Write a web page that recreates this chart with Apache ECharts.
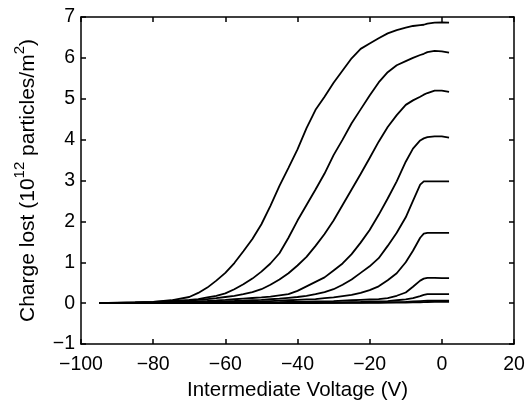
<!DOCTYPE html>
<html><head><meta charset="utf-8">
<script src="https://cdn.jsdelivr.net/npm/echarts@6/dist/echarts.min.js"></script>
<style>html,body{margin:0;padding:0;background:#fff}#c{width:527px;height:403px}</style>
</head><body><div id="c"></div>
<script>
const voltage = [-95,-90,-85,-80,-75,-70,-67.5,-65,-62.5,-60,-57.5,-55,-52.5,-50,-47.5,-45,-42.5,-40,-37.5,-35,-32.5,-30,-27.5,-25,-22.5,-20,-17.5,-15,-12.5,-10,-8,-6,-5,-4,-2,0,2];
const curve1 = [0,0.01,0.02,0.03,0.07,0.15,0.25,0.38,0.55,0.74,0.98,1.27,1.57,1.93,2.38,2.87,3.31,3.76,4.28,4.73,5.05,5.39,5.69,5.99,6.22,6.35,6.48,6.6,6.68,6.74,6.78,6.8,6.81,6.84,6.86,6.87,6.86];
const curve2 = [0,0.005,0.015,0.03,0.05,0.08,0.1,0.14,0.18,0.24,0.34,0.46,0.6,0.77,0.97,1.22,1.6,2.02,2.4,2.78,3.17,3.62,4.0,4.4,4.74,5.08,5.4,5.65,5.82,5.92,6.0,6.07,6.1,6.14,6.17,6.16,6.13];
const curve3 = [0,0.003,0.01,0.02,0.035,0.06,0.08,0.1,0.12,0.15,0.18,0.22,0.27,0.34,0.45,0.58,0.73,0.92,1.13,1.4,1.69,2.02,2.4,2.78,3.16,3.55,3.95,4.31,4.6,4.85,4.96,5.05,5.1,5.14,5.2,5.2,5.17];
const curve4 = [0,0.002,0.006,0.012,0.02,0.035,0.045,0.055,0.067,0.08,0.095,0.11,0.125,0.14,0.16,0.19,0.22,0.3,0.41,0.52,0.63,0.8,0.97,1.2,1.48,1.79,2.16,2.56,2.98,3.46,3.78,3.98,4.03,4.06,4.08,4.08,4.05];
const curve5 = [0,0.001,0.004,0.008,0.013,0.02,0.025,0.03,0.037,0.045,0.052,0.06,0.07,0.08,0.095,0.11,0.13,0.15,0.18,0.22,0.27,0.34,0.45,0.58,0.74,0.9,1.1,1.4,1.72,2.1,2.5,2.9,2.98,2.98,2.98,2.98,2.98];
const curve6 = [0,0,0.002,0.004,0.006,0.01,0.012,0.015,0.017,0.02,0.025,0.03,0.035,0.04,0.05,0.06,0.07,0.08,0.09,0.1,0.12,0.14,0.17,0.2,0.25,0.32,0.41,0.56,0.73,1.0,1.28,1.6,1.7,1.72,1.72,1.72,1.72];
const curve7 = [0,0,0,0.002,0.003,0.005,0.006,0.007,0.008,0.01,0.011,0.013,0.015,0.017,0.02,0.023,0.027,0.03,0.035,0.04,0.045,0.05,0.06,0.07,0.08,0.09,0.1,0.12,0.18,0.26,0.4,0.55,0.6,0.62,0.62,0.61,0.61];
const curve8 = [0,0,0,0,0.001,0.002,0.0025,0.003,0.0035,0.004,0.0045,0.005,0.0055,0.006,0.007,0.008,0.009,0.01,0.012,0.014,0.016,0.018,0.02,0.025,0.03,0.04,0.045,0.05,0.07,0.09,0.12,0.17,0.2,0.22,0.22,0.22,0.22];
const curve9 = [0,0,0,0,0,0.001,0.001,0.001,0.0015,0.002,0.002,0.002,0.0025,0.003,0.003,0.004,0.004,0.005,0.006,0.007,0.008,0.009,0.01,0.012,0.014,0.016,0.018,0.02,0.025,0.03,0.04,0.05,0.055,0.06,0.06,0.06,0.06];
const curve10 = [0,0,0,0,0,0,0,0,0.0005,0.001,0.001,0.001,0.001,0.001,0.002,0.002,0.002,0.003,0.003,0.003,0.004,0.004,0.005,0.005,0.006,0.007,0.008,0.01,0.012,0.015,0.018,0.022,0.025,0.028,0.03,0.03,0.03];
const curves = [curve1,curve2,curve3,curve4,curve5,curve6,curve7,curve8,curve9,curve10];
const xTicks = {min:-100, max:20, interval:20};
const yTicks = {min:-1, max:7, interval:1};

const FONT = 'Liberation Sans';
const minus = v => String(v).replace('-', '\u2212');
const lineStyle = {color:'#000', width:1.5};
const chart = echarts.init(document.getElementById('c'));
chart.setOption({
  animation:false,
  backgroundColor:'#fff',
  grid:{left:81, right:13, top:17, bottom:59, containLabel:false, outerBoundsMode:'none'},
  xAxis:[{
    type:'value', min:xTicks.min, max:xTicks.max, interval:xTicks.interval, position:'bottom',
    axisLine:{show:true, onZero:false, lineStyle}, axisTick:{show:true, inside:true, length:5, lineStyle},
    splitLine:{show:false},
    axisLabel:{formatter:minus, color:'#000', fontSize:19.5, fontFamily:FONT, margin:11},
    name:'Intermediate Voltage (V)', nameLocation:'middle', nameGap:31,
    nameTextStyle:{color:'#000', fontSize:20.5, fontFamily:FONT}
  },{
    type:'value', min:xTicks.min, max:xTicks.max, interval:xTicks.interval, position:'top',
    axisLine:{show:true, onZero:false, lineStyle}, axisTick:{show:true, inside:true, length:5, lineStyle},
    splitLine:{show:false}, axisLabel:{show:false}
  }],
  yAxis:[{
    type:'value', min:yTicks.min, max:yTicks.max, interval:yTicks.interval, position:'left',
    axisLine:{show:true, onZero:false, lineStyle}, axisTick:{show:true, inside:true, length:5, lineStyle},
    splitLine:{show:false},
    axisLabel:{formatter:minus, color:'#000', fontSize:19.5, fontFamily:FONT, margin:6},
    name:'{b|Charge lost (10}{s|12}{b| particles/m}{s|2}{b|)}', nameLocation:'middle', nameGap:42, nameRotate:90,
    nameTextStyle:{color:'#000', fontSize:21, fontFamily:FONT,
      rich:{
        b:{fontSize:21, fontFamily:FONT, color:'#000', lineHeight:27, verticalAlign:'bottom'},
        s:{fontSize:15, fontFamily:FONT, color:'#000', lineHeight:27, verticalAlign:'top'}
      }}
  },{
    type:'value', min:yTicks.min, max:yTicks.max, interval:yTicks.interval, position:'right',
    axisLine:{show:true, onZero:false, lineStyle}, axisTick:{show:true, inside:true, length:5, lineStyle},
    splitLine:{show:false}, axisLabel:{show:false}
  }],
  series: curves.map((c, k) => ({
    type:'line', xAxisIndex:0, yAxisIndex:0, showSymbol:false, symbol:'none',
    lineStyle:{color:'#000', width:1.8}, z:2+k,
    data: voltage.map((v, i) => [v, c[i]])
  }))
});
</script>
</body></html>
